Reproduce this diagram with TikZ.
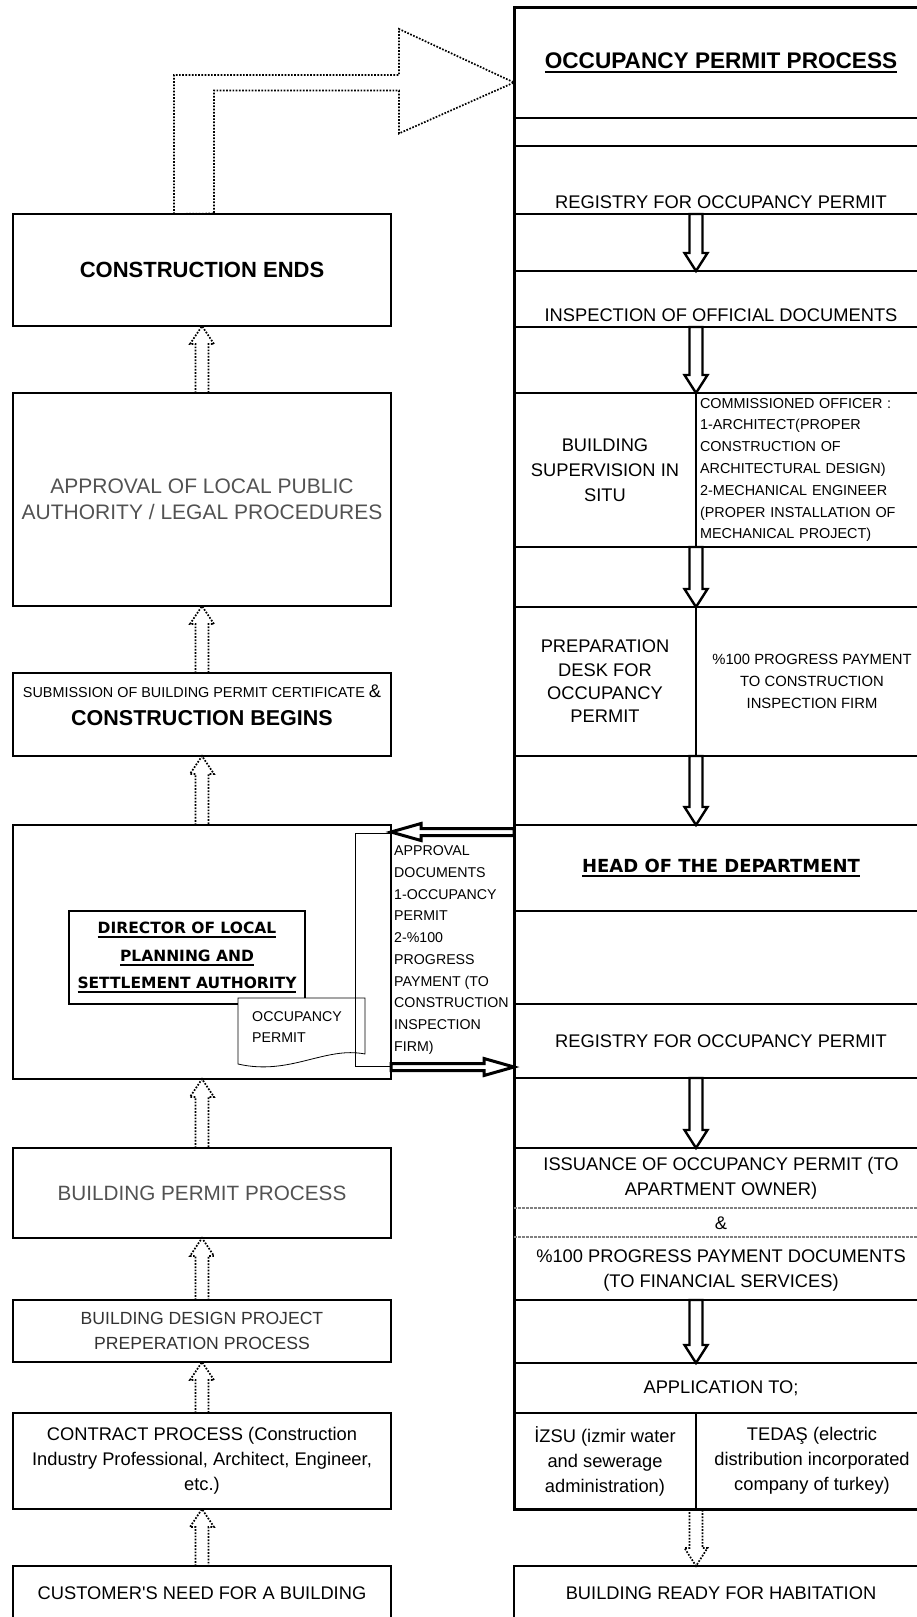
\documentclass[tikz,border=0pt]{standalone}
\usepackage{fontspec}
\setmainfont{Liberation Sans}
\newfontfamily\comicfont{DejaVu Sans}
\usetikzlibrary{calc}

\newcommand\fsz[2]{\fontsize{#1}{#2}\selectfont}
% thick underline
\newsavebox\ulbox
\newcommand\uln[1]{\sbox\ulbox{#1}\rlap{\rule[-4.5pt]{\wd\ulbox}{1.8pt}}\usebox\ulbox}
% block arrows: style, from, to, shaft half width, head half width, head length (signed)
\newcommand\vblock[6]{\draw[#1] let \p1=#2, \p2=#3 in
  ({\x1-#4},\y1) -- ({\x1-#4},{\y2+(#6)}) -- ({\x1-#5},{\y2+(#6)}) -- (\x1,\y2)
  -- ({\x1+#5},{\y2+(#6)}) -- ({\x1+#4},{\y2+(#6)}) -- ({\x1+#4},\y1) -- cycle;}
\newcommand\hblock[6]{\draw[#1] let \p1=#2, \p2=#3 in
  (\x1,{\y1-#4}) -- ({\x2-(#6)},{\y1-#4}) -- ({\x2-(#6)},{\y1-#5}) -- (\x2,\y1)
  -- ({\x2-(#6)},{\y1+#5}) -- ({\x2-(#6)},{\y1+#4}) -- (\x1,{\y1+#4}) -- cycle;}

\tikzset{
  sz/.style 2 args={minimum width=#1pt, minimum height=#2pt},
  box/.style={draw, rectangle, line width=2.2pt, inner sep=0pt, outer sep=0pt,
    anchor=north west, align=center, font=\fsz{18.3}{25}},
  row/.style={box, line width=2.4pt},
  cell/.style={inner sep=0pt, align=center, font=\fsz{18.3}{25}},
  greytxt/.style={text=black!68},
  dotarrow/.style={draw, line width=1.7pt, dash pattern=on 1.7pt off 1.5pt},
  hollow/.style={draw, line width=2.4pt},
  docarrow/.style={draw, line width=3pt},
  thinbox/.style={draw, line width=0.8pt},
  ampline/.style={draw=black!50, line width=1.5pt, dash pattern=on 3pt off 1pt},
}

\begin{document}
\begin{tikzpicture}[x=1pt, y=-1pt]
\useasboundingbox (0,0) rectangle (917,1617);
\clip (0,0) rectangle (917,1617);

% left column
\node[box, sz={378}{112}] (ends) at (13,214) {\bfseries\fsz{22}{26}CONSTRUCTION ENDS};
\node[box, sz={378}{213}, greytxt, font=\fsz{21}{26}] (approval) at (13,393)
  {APPROVAL OF LOCAL PUBLIC\\AUTHORITY / LEGAL PROCEDURES};
\node[box, sz={378}{83}, font=\fsz{18.3}{27.5}, text depth=19pt] (submit) at (13,673)
  {{\fsz{14.4}{27.5}SUBMISSION OF BUILDING PERMIT CERTIFICATE \fsz{18.3}{27.5}\&}\\
   {\bfseries\fsz{21.5}{27.5}CONSTRUCTION BEGINS}};
\node[box, sz={378}{254}] (dirbox) at (13,825) {};
\node[box, sz={378}{90}, greytxt, font=\fsz{20.7}{25}] (bpp) at (13,1148) {BUILDING PERMIT PROCESS};
\node[box, sz={378}{62}, text=black!80, font=\fsz{17.6}{25}] (design) at (13,1300)
  {BUILDING DESIGN PROJECT\\PREPERATION PROCESS};
\node[box, sz={378}{96}] (contract) at (13,1413)
  {CONTRACT PROCESS (Construction\\Industry Professional, Architect, Engineer,\\etc.)};
\node[box, sz={378}{54}] (customer) at (13,1566) {CUSTOMER\textquotesingle S NEED FOR A BUILDING};

% inside the director box
\node[box, sz={236}{93}, font=\comicfont\bfseries\fsz{15.5}{27.5}] (director) at (69,911)
  {\uln{DIRECTOR OF LOCAL}\\\uln{PLANNING AND}\\\uln{SETTLEMENT AUTHORITY}};
\draw[thinbox, fill=white] (238,998) -- (365,998) -- (365,1054)
  .. controls (325,1046) and (290,1076) .. (238,1064) -- cycle;
\node[anchor=north west, inner sep=0pt, align=left, font=\fsz{14.2}{21}] (permit) at (252,1011)
  {OCCUPANCY\\PERMIT};
\node[thinbox, inner sep=0pt, outer sep=0pt, anchor=north west, sz={36}{233}] (frame) at (355,833) {};
\node[anchor=west, inner sep=0pt, align=left, font=\fsz{14.2}{21.7}] (appdocs) at (394,950)
  {APPROVAL\\DOCUMENTS\\1-OCCUPANCY\\PERMIT\\2-\%100\\PROGRESS\\PAYMENT (TO\\CONSTRUCTION\\INSPECTION\\FIRM)};

% right column
\node[box, sz={414}{1502}, line width=3pt] (column) at (514,7) {};
\coordinate (split) at (696,0);
\node[row, sz={414}{111}] (title) at (514,7) {\bfseries\fsz{22.6}{26}\uln{OCCUPANCY PERMIT PROCESS}};
\node[row, sz={414}{68}, text height=57pt, text depth=0pt] (reg1) at (514,146) {REGISTRY FOR OCCUPANCY PERMIT};
\node[row, sz={414}{56}, text height=45pt, text depth=0pt] (insp) at (514,271) {INSPECTION OF OFFICIAL DOCUMENTS};
\node[row, sz={182}{154}] (super) at (514,393) {BUILDING\\SUPERVISION IN\\SITU};
\node[row, sz={232}{154}, text width=224pt, align=left, font=\fsz{14.4}{21.8}] (officer) at (696,393)
  {COMMISSIONED OFFICER :\\1-ARCHITECT(PROPER\\CONSTRUCTION OF\\ARCHITECTURAL DESIGN)\\2-MECHANICAL ENGINEER\\(PROPER INSTALLATION OF\\MECHANICAL PROJECT)};
\node[row, sz={182}{149}, font=\fsz{18.3}{23.3}] (prep) at (514,607) {PREPARATION\\DESK FOR\\OCCUPANCY\\PERMIT};
\node[row, sz={232}{149}, font=\fsz{14.8}{22}] (payment) at (696,607)
  {\%100 PROGRESS PAYMENT\\TO CONSTRUCTION\\INSPECTION FIRM};
\node[row, sz={414}{86}, font=\comicfont\bfseries\fsz{18}{22}] (head) at (514,825) {\uln{HEAD OF THE DEPARTMENT}};
\node[row, sz={414}{74}] (reg2) at (514,1004) {REGISTRY FOR OCCUPANCY PERMIT};
\node[row, sz={414}{152}] (issue) at (514,1148) {};
\node[cell] (issuetxt) at ([yshift=-30pt]issue.north) {ISSUANCE OF OCCUPANCY PERMIT (TO\\APARTMENT OWNER)};
\node[cell] (amp) at ([yshift=-75pt]issue.north) {\&};
\node[cell] (paydocs) at ([yshift=-122pt]issue.north) {\%100 PROGRESS PAYMENT DOCUMENTS\\(TO FINANCIAL SERVICES)};
\draw[ampline] ([yshift=-60pt]issue.north west) -- ([yshift=-60pt]issue.north east);
\draw[ampline] ([yshift=-89pt]issue.north west) -- ([yshift=-89pt]issue.north east);
\node[row, sz={414}{50}] (apply) at (514,1363) {APPLICATION TO;};
\node[row, sz={182}{96}] (izsu) at (514,1413) {İZSU (izmir water\\and sewerage\\administration)};
\node[row, sz={232}{96}] (tedas) at (696,1413) {TEDAŞ (electric\\distribution incorporated\\company of turkey)};
\node[row, sz={414}{54}] (ready) at (514,1566) {BUILDING READY FOR HABITATION};

% arrows down the right column
\vblock{hollow}{(reg1.south -| split)}{(insp.north -| split)}{6.5}{11.5}{18}
\vblock{hollow}{(insp.south -| split)}{(super.north -| split)}{6.5}{11.5}{18}
\vblock{hollow}{(super.south -| split)}{(prep.north -| split)}{6.5}{11.5}{18}
\vblock{hollow}{(prep.south -| split)}{(head.north -| split)}{6.5}{11.5}{18}
\vblock{hollow}{(reg2.south -| split)}{(issue.north -| split)}{6.5}{11.5}{18}
\vblock{hollow}{(issue.south -| split)}{(apply.north -| split)}{6.5}{11.5}{18}
\vblock{dotarrow}{(izsu.south -| split)}{(ready.north -| split)}{6.5}{11.5}{18}

% arrows up the left column
\vblock{dotarrow}{(approval.north)}{(ends.south)}{6.5}{12}{-18}
\vblock{dotarrow}{(submit.north)}{(approval.south)}{6.5}{12}{-18}
\vblock{dotarrow}{(dirbox.north)}{(submit.south)}{6.5}{12}{-18}
\vblock{dotarrow}{(bpp.north)}{(dirbox.south)}{6.5}{12}{-18}
\vblock{dotarrow}{(design.north)}{(bpp.south)}{6.5}{12}{-18}
\vblock{dotarrow}{(contract.north)}{(design.south)}{6.5}{12}{-18}
\vblock{dotarrow}{(customer.north)}{(contract.south)}{6.5}{12}{-18}

% documents between the department and the director
\hblock{docarrow}{([yshift=-7pt]head.north west)}{(dirbox.east)}{3.5}{8.5}{-30}
\hblock{docarrow}{([yshift=12pt]dirbox.south east)}{(reg2.west)}{3.5}{8.5}{30}

% bent arrow to the occupancy permit process
\draw[dotarrow] ([xshift=-28pt]ends.north) -- ++(0,-139) -- ++(225,0) -- ++(0,-46)
  -- ([yshift=-20pt]title.west) -- ++(-115,51) -- ++(0,-43) -- ++(-185,0) -- ++(0,123) -- cycle;
\end{tikzpicture}
\end{document}
